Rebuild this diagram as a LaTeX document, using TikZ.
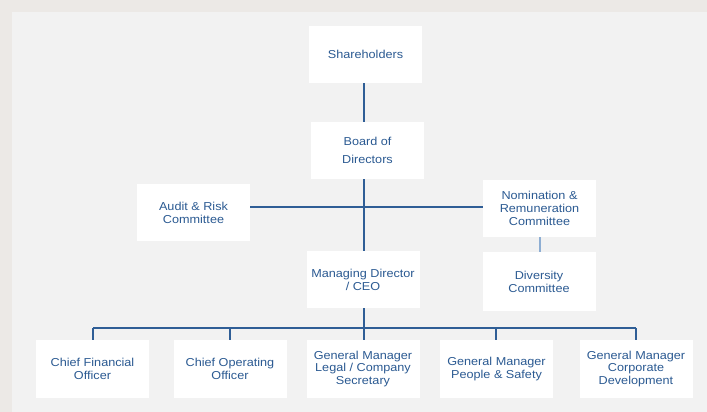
\documentclass[tikz,border=0pt]{standalone}
\usepackage{fontspec}
\setmainfont{Liberation Sans}[FakeStretch=1.1]
\definecolor{outerbg}{HTML}{ECE9E6}
\definecolor{panelbg}{HTML}{F2F2F2}
\definecolor{txtblue}{HTML}{2B5A92}
\definecolor{lineblue}{HTML}{2F5E96}
\definecolor{lightline}{HTML}{8EAED3}
\tikzset{
  orgbox/.style={fill=white, draw=none, minimum width=113pt, minimum height=57pt,
    inner sep=0pt, align=center, text=txtblue,
    font=\fontsize{11.5pt}{12.8pt}\selectfont},
  conn/.style={draw=lineblue, line width=1.4pt},
  lconn/.style={draw=lightline, line width=1.6pt}
}
\begin{document}
\begin{tikzpicture}[x=1pt,y=-1pt]
\useasboundingbox (0,0) rectangle (707,412);
\fill[outerbg] (0,0) rectangle (707,412);
\fill[panelbg] (12,12) rectangle (707,412);

\node[orgbox] (sh) at (365.5,54.5) {Shareholders};
\node[orgbox] (bd) at (367.5,150.5) {Board of\\[5pt]Directors};
\node[orgbox] (ar) at (193.5,212.5) {Audit \& Risk\\Committee};
\node[orgbox] (nr) at (539.5,208.5) {Nomination \&\\Remuneration\\Committee};
\node[orgbox, minimum height=59pt] (dc) at (539,281.5) {Diversity\\Committee};
\node[orgbox] (md) at (363,279.5) {Managing Director\\/ CEO};
\node[orgbox, minimum height=58pt] (cfo) at (92.5,369) {Chief Financial\\Officer};
\node[orgbox, minimum height=58pt] (coo) at (230,369) {Chief Operating\\Officer};
\node[orgbox, minimum height=58pt] (gml) at (363,369) {General Manager\\Legal / Company\\Secretary};
\node[orgbox, minimum height=58pt] (gmp) at (496.5,369) {General Manager\\People \& Safety};
\node[orgbox, minimum height=58pt] (gmc) at (636,369) {General Manager\\Corporate\\Development};

\coordinate (trunk) at (364,207);
\coordinate (bus) at (364,328);
\coordinate (busL) at (93,328);
\coordinate (busR) at (636,328);

\draw[conn] (sh.south -| trunk) -- (bd.north -| trunk);
\draw[conn] (bd.south -| trunk) -- (md.north -| trunk);
\draw[conn] (ar.east |- trunk) -- (nr.west |- trunk);
\draw[lconn] (nr.south -| 540,0) -- (dc.north -| 540,0);
\draw[conn] (md.south -| trunk) -- (gml.north -| trunk);
\draw[conn] (busL) -- (busR);
\draw[conn] (busL) -- (cfo.north -| busL);
\draw[conn] (230,328) -- (coo.north -| 230,0);
\draw[conn] (496,328) -- (gmp.north -| 496,0);
\draw[conn] (busR) -- (gmc.north -| busR);
\end{tikzpicture}
\end{document}
